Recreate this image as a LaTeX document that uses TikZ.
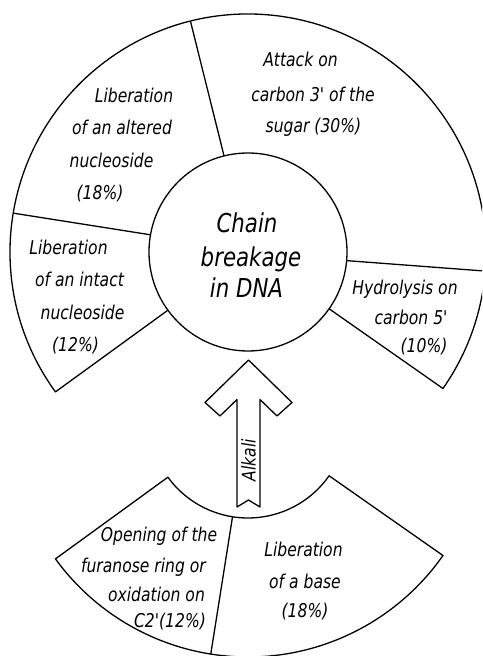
\documentclass[tikz,border=0pt]{standalone}
\usepackage{fontspec}
\newfontfamily\lab{DejaVu Sans}[FakeStretch=0.82]
\usetikzlibrary{calc}
\begin{document}
\begin{tikzpicture}[x=1pt,y=1pt,
  ln/.style={line width=1.3pt, line join=round},
  lab/.style={font=\lab\itshape\fontsize{19}{22}\selectfont, inner sep=0, anchor=base},
  big/.style={font=\lab\itshape\fontsize{26}{30}\selectfont, inner sep=0, anchor=base}]
\useasboundingbox (0,0) rectangle (482,656);
\clip (0,0) rectangle (482,656);
\coordinate (c1) at (248,404);
\coordinate (c2) at (248,237);
% upper annulus
\node[circle, draw, ln, minimum size=198pt, inner sep=0, outer sep=0] (inner) at (c1) {};
\draw[ln] ($(c1)+(216:99pt)$) -- ($(c1)+(216:238pt)$) arc[start angle=216, end angle=-35, radius=238pt] -- ($(c1)+(-35:99pt)$);
\draw[ln] (inner.104) -- ($(c1)+(104:238pt)$);
\draw[ln] (inner.170.6) -- ($(c1)+(170.6:238pt)$);
\draw[ln] (inner.355.4) -- ($(c1)+(355.4:238pt)$);
% lower sector
\draw[ln] ($(c2)+(216:99pt)$) arc[start angle=216, end angle=325, radius=99pt]
  -- ($(c2)+(325:238pt)$) arc[start angle=325, end angle=216, radius=238pt] -- cycle;
\draw[ln] ($(c2)+(261:99pt)$) -- ($(c2)+(261:238pt)$);
% arrow
\draw[ln] (248.5,296) -- (205,253.5) -- (220,240) -- (237,256.5) -- (237,149) -- (248.5,156)
  -- (260,149) -- (260,256.5) -- (277,240) -- (292,253.5) -- cycle;
\node[lab, anchor=center, rotate=90] (alk) at (248.5,196) {Alkali};
% texts upper
\node[lab] (a1) at (300.5,589) {Attack on};
\node[lab] (a2) at (313,554) {carbon 3' of the};
\node[lab] (a3) at (313.5,523) {sugar (30\%)};
\node[lab] (b1) at (134,553) {Liberation};
\node[lab] (b2) at (122,521) {of an altered};
\node[lab] (b3) at (111.5,488) {nucleoside};
\node[lab] (b4) at (100,456) {(18\%)};
\node[big] (m1) at (247,423) {Chain};
\node[big] (m2) at (251,389) {breakage};
\node[big] (m3) at (246.5,358) {in DNA};
\node[lab] (d1) at (68.5,401) {Liberation};
\node[lab] (d2) at (79.5,369) {of an intact};
\node[lab] (d3) at (82.5,336) {nucleoside};
\node[lab] (d4) at (75.5,304) {(12\%)};
\node[lab] (h1) at (405,361) {Hydrolysis on};
\node[lab] (h2) at (411,331) {carbon 5'};
\node[lab] (h3) at (424,303) {(10\%)};
% texts lower
\node[lab] (o1) at (159,114) {Opening of the};
\node[lab] (o2) at (143.5,83) {furanose ring or};
\node[lab] (o3) at (156.5,54) {oxidation on};
\node[lab] (o4) at (170,28) {C2'(12\%)};
\node[lab] (l1) at (303.5,99) {Liberation};
\node[lab] (l2) at (305,67) {of a base};
\node[lab] (l3) at (305,38) {(18\%)};
\end{tikzpicture}
\end{document}
